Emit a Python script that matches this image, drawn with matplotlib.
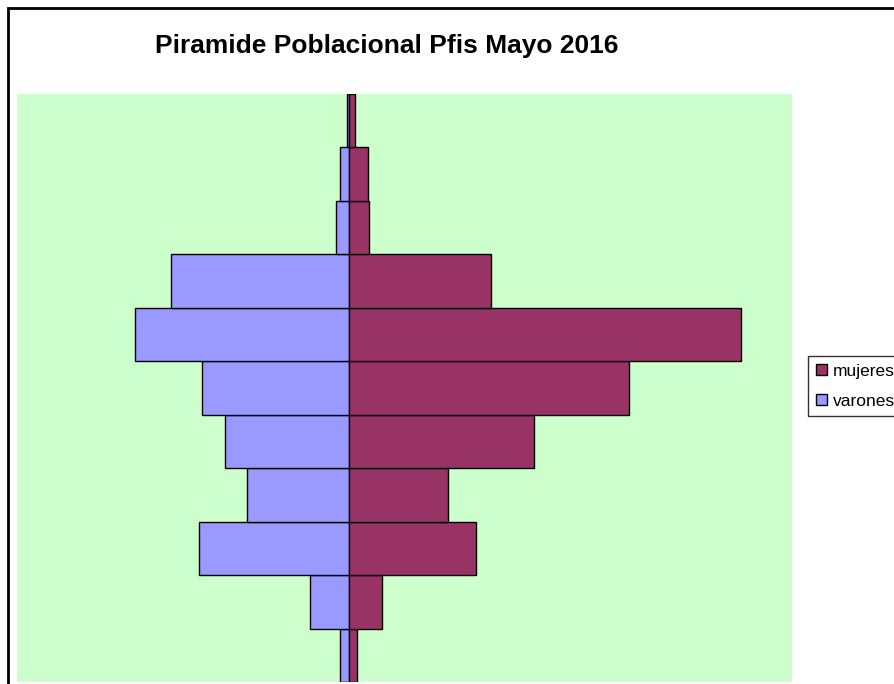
import matplotlib
matplotlib.use("Agg")
import matplotlib.pyplot as plt
from matplotlib.patches import Rectangle, Patch
import numpy as np

plt.rcParams['font.family'] = ['Liberation Sans', 'DejaVu Sans']

# Age groups, bottom to top
groups = ["0-9", "10-19", "20-29", "30-39", "40-49", "50-59", "60-69", "70-79", "80-89", "90-99", "100+"]
varones = [0.79, 3.5, 13.6, 9.2, 11.2, 13.3, 19.3, 16.1, 1.15, 0.79, 0.23]
mujeres = [0.75, 2.95, 11.5, 8.9, 16.7, 25.3, 35.4, 12.8, 1.8, 1.7, 0.5]

W, H = 894, 684
fig = plt.figure(figsize=(W / 100, H / 100), dpi=100)

# outer chart border (cut off at right/bottom)
fig.patches.append(Rectangle((7.5 / W, -0.1), 1.2, 1 - 7.5 / H + 0.1, transform=fig.transFigure,
                             fill=False, edgecolor='black', linewidth=2))

ax = fig.add_axes([17 / W, 1 - 682 / H, (792 - 17) / W, (682 - 94) / H])
ax.set_facecolor('#CCFFCC')
y = np.arange(len(groups))
ax.barh(y, [-v for v in varones], height=1.0, color='#9999FF', edgecolor='black', linewidth=1, label='varones')
ax.barh(y, mujeres, height=1.0, color='#993366', edgecolor='black', linewidth=1, label='mujeres')
ax.set_xlim(-30, 40)
ax.set_ylim(-0.5, len(groups) - 0.5)
ax.set_xticks([])
ax.set_yticks([])
for s in ax.spines.values():
    s.set_visible(False)

fig.text(387 / W, 1 - 46 / H, "Piramide Poblacional Pfis Mayo 2016", ha='center', va='center',
         fontsize=19, fontweight='bold')

handles = [Patch(facecolor='#993366', edgecolor='black', label='mujeres'),
           Patch(facecolor='#9999FF', edgecolor='black', label='varones')]
leg = fig.legend(handles=handles, loc='upper left', bbox_to_anchor=(808 / W, 1 - 356 / H),
                 frameon=True, fancybox=False, fontsize=12.5, handlelength=0.63, handleheight=0.63,
                 handletextpad=0.35, borderpad=0.45, labelspacing=0.85, borderaxespad=0)
leg.get_frame().set_edgecolor('black')
leg.get_frame().set_linewidth(1)

fig.savefig("out.png", dpi=100)
